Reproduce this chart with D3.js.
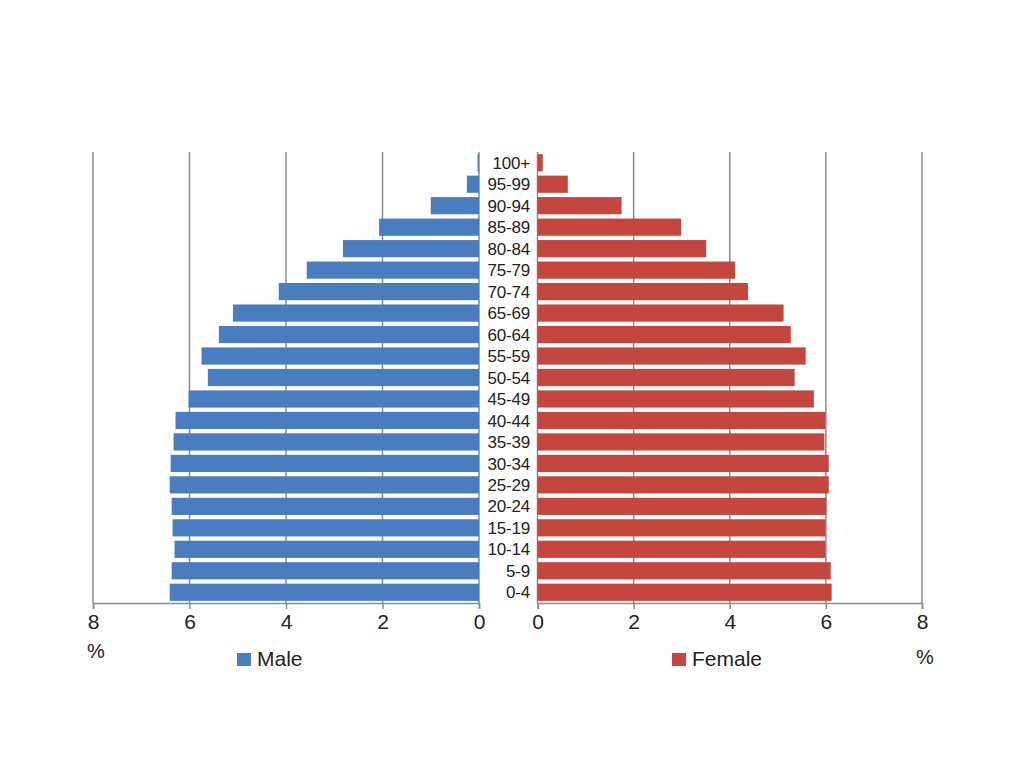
<!DOCTYPE html>
<html>
<head>
<meta charset="utf-8">
<script src="https://cdn.jsdelivr.net/npm/d3@7"></script>
<style>
  body { margin:0; background:#fff; }
  svg text { font-family: "Liberation Sans", Arial, sans-serif; fill:#222; }
</style>
</head>
<body>
<div id="chart"></div>
<script>
// age groups, youngest first
var ages = ["0-4","5-9","10-14","15-19","20-24","25-29","30-34","35-39","40-44","45-49",
            "50-54","55-59","60-64","65-69","70-74","75-79","80-84","85-89","90-94","95-99","100+"];
var male = [6.41,6.37,6.31,6.35,6.37,6.41,6.39,6.33,6.29,6.02,
            5.62,5.75,5.39,5.10,4.15,3.57,2.82,2.07,1.00,0.25,0.03];
var female = [6.12,6.10,5.99,5.99,6.01,6.06,6.06,5.97,5.99,5.75,
              5.35,5.58,5.27,5.12,4.38,4.11,3.51,2.99,1.75,0.63,0.11];
var ticks = [0,2,4,6,8];

var W = 1024, H = 767;
var plotTop = 152, plotBottom = 603;
var gridColor = "#8a8a8a";

var svg = d3.select("#chart").append("svg")
  .attr("width", W).attr("height", H);

var xL = d3.scaleLinear().domain([0, 8]).range([479, 93]);
var xR = d3.scaleLinear().domain([0, 8]).range([537.5, 922]);
var y = d3.scaleBand().domain(ages).range([plotBottom, plotTop]).paddingInner(0.2).paddingOuter(0.1);

// grid lines
[xL, xR].forEach(function(x){
  svg.append("g").selectAll("line").data(ticks).enter().append("line")
    .attr("x1", function(d){ return x(d); })
    .attr("x2", function(d){ return x(d); })
    .attr("y1", plotTop).attr("y2", plotBottom)
    .attr("stroke", gridColor).attr("stroke-width", 1.5);
});

// bars
svg.append("g").selectAll("rect").data(male).enter().append("rect")
  .attr("x", function(d){ return xL(d); })
  .attr("y", function(d,i){ return y(ages[i]); })
  .attr("width", function(d){ return xL(0) - xL(d); })
  .attr("height", y.bandwidth())
  .attr("fill", "#4a7cc0");

svg.append("g").selectAll("rect").data(female).enter().append("rect")
  .attr("x", xR(0))
  .attr("y", function(d,i){ return y(ages[i]); })
  .attr("width", function(d){ return xR(d) - xR(0); })
  .attr("height", y.bandwidth())
  .attr("fill", "#c5463f");

// age labels
svg.append("g").selectAll("text").data(ages).enter().append("text")
  .attr("x", 530)
  .attr("y", function(d){ return y(d) + y.bandwidth()/2; })
  .attr("dy", "0.36em")
  .attr("text-anchor", "end")
  .style("font-size", "17px")
  .style("letter-spacing", "-0.2px")
  .text(function(d){ return d; });

// bottom axes
function drawAxis(x){
  var g = svg.append("g").attr("transform", "translate(0," + plotBottom + ")")
    .call(d3.axisBottom(x).tickValues(ticks).tickSize(6).tickPadding(5).tickFormat(d3.format("d")));
  g.select(".domain").attr("stroke", gridColor).attr("stroke-width", 1.5);
  g.selectAll(".tick line").attr("stroke", gridColor).attr("stroke-width", 1.5);
  g.selectAll(".tick text").style("font-size", "21px").attr("fill", "#222")
    .style("font-family", "'Liberation Sans', Arial, sans-serif");
}
drawAxis(xL);
drawAxis(xR);

svg.append("text").attr("x", 96).attr("y", 658).attr("text-anchor", "middle")
  .style("font-size", "20px").text("%");
svg.append("text").attr("x", 925).attr("y", 664).attr("text-anchor", "middle")
  .style("font-size", "20px").text("%");

// legend
var legend = [{name:"Male", color:"#4a7cc0", x:237}, {name:"Female", color:"#c5463f", x:672}];
var lg = svg.append("g").selectAll("g").data(legend).enter().append("g")
  .attr("transform", function(d){ return "translate(" + d.x + ",653)"; });
lg.append("rect").attr("width", 14).attr("height", 13).attr("fill", function(d){ return d.color; });
lg.append("text").attr("x", 20).attr("y", 13).style("font-size", "21px")
  .text(function(d){ return d.name; });
</script>
</body>
</html>
